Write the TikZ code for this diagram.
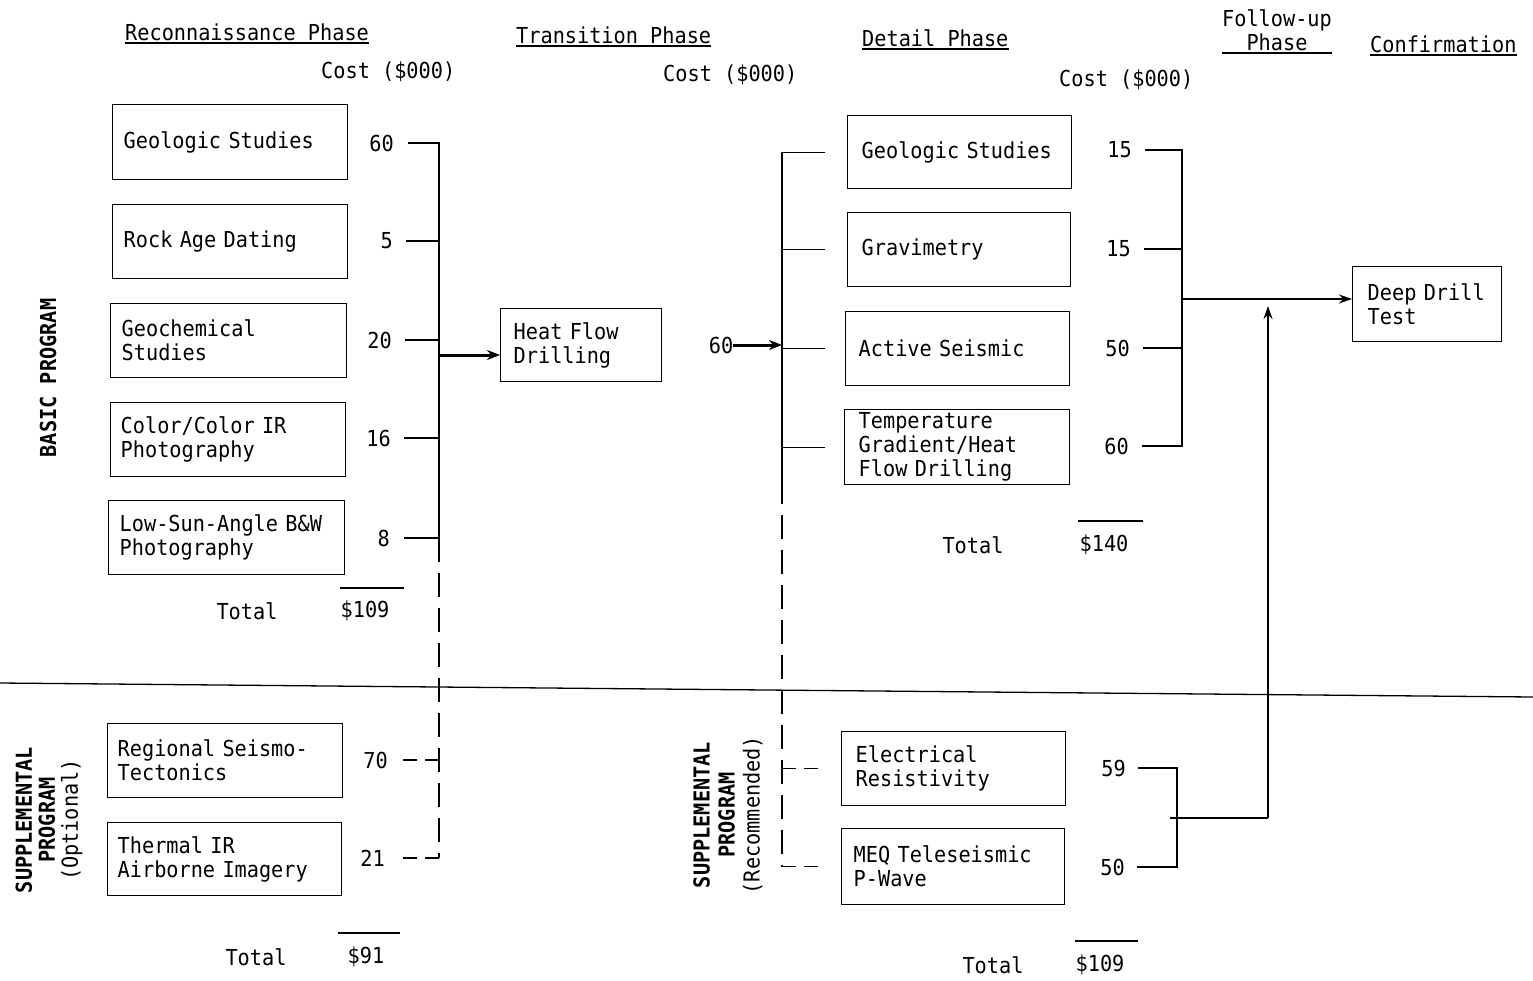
\documentclass[tikz,border=0pt]{standalone}
\usepackage{fontspec}
\newfontfamily\tw{DejaVu Sans Mono}[FakeStretch=0.92]
\usetikzlibrary{arrows.meta,calc}
\begin{document}
\begin{tikzpicture}[x=1pt,y=-1pt,
  every node/.style={font=\tw\fontsize{22}{24}\selectfont, inner sep=0pt},
  box/.style={draw, line width=1.4pt, inner xsep=11pt, inner ysep=0pt, align=left, anchor=north west},
  cost/.style={anchor=east},
  hdr/.style={anchor=base west},
  vlab/.style={rotate=90, align=center},
  uline/.style={line width=1.3pt},
  conn/.style={line width=1.3pt},
  dconn/.style={line width=1.3pt, dash pattern=on 24pt off 11pt},
  dtick/.style={line width=1.3pt, dash pattern=on 14pt off 8pt},
  tarrow/.style={line width=3pt, -{Stealth[length=13pt,width=10pt]}},
  arr/.style={line width=1.3pt, -{Stealth[length=13pt,width=9pt]}},
  totline/.style={line width=1.3pt}]
\useasboundingbox (0,0) rectangle (1533,980);
\fill[white] (0,0) rectangle (1533,980);

% ---------- headers ----------
\node[hdr] (h1) at (125,40) {Reconnaissance Phase};
\draw[uline] ([yshift=-3pt]h1.base west) -- ([yshift=-3pt]h1.base east);
\node[hdr] (k1) at (321,78) {Cost (\$000)};
\node[hdr] (h2) at (516,43) {Transition Phase};
\draw[uline] ([yshift=-3pt]h2.base west) -- ([yshift=-3pt]h2.base east);
\node[hdr] (k2) at (663,81) {Cost (\$000)};
\node[hdr] (h3) at (862,46) {Detail Phase};
\draw[uline] ([yshift=-3pt]h3.base west) -- ([yshift=-3pt]h3.base east);
\node[hdr] (k3) at (1059,86) {Cost (\$000)};
\node[anchor=base] (h4a) at (1277,26) {Follow-up};
\node[anchor=base] (h4b) at (1277,50) {Phase};
\draw[uline] ($(h4a.west |- h4b.base)+(0,3)$) -- ($(h4a.east |- h4b.base)+(0,3)$);
\node[hdr] (h5) at (1370,52) {Confirmation};
\draw[uline] ([yshift=-3pt]h5.base west) -- ([yshift=-3pt]h5.base east);

% ---------- side labels ----------
\node[vlab] (vb) at (48,378) {\bfseries BASIC PROGRAM};
\node[vlab, font=\tw\fontsize{22}{23}\selectfont] (vs1) at (49,820) {\bfseries SUPPLEMENTAL\\\bfseries PROGRAM\\(Optional)};
\node[vlab, font=\tw\fontsize{22}{25}\selectfont] (vs2) at (728,815) {\bfseries SUPPLEMENTAL\\\bfseries PROGRAM\\(Recommended)};

% ---------- reconnaissance boxes ----------
\node[box, text width=213pt, minimum height=75pt] (rg) at (112,104) {Geologic Studies};
\node[box, text width=213pt, minimum height=74pt] (ra) at (112,204) {Rock Age Dating};
\node[box, text width=214pt, minimum height=74pt] (rc) at (110,303) {Geochemical\\Studies};
\node[box, inner xsep=10pt, text width=215pt, minimum height=74pt] (rp) at (110,402) {Color/Color IR\\Photography};
\node[box, text width=214pt, minimum height=74pt] (rl) at (108,500) {Low-Sun-Angle B\&W\\Photography};
\node[box, inner xsep=10pt, text width=215pt, minimum height=74pt] (rs) at (107,723) {Regional Seismo-\\Tectonics};
\node[box, inner xsep=10pt, text width=214pt, minimum height=73pt] (rt) at (107,822) {Thermal IR\\Airborne Imagery};

% ---------- transition box ----------
\node[box, inner xsep=13pt, text width=135pt, minimum height=73pt] (hf) at (500,308) {Heat Flow\\Drilling};

% ---------- detail boxes ----------
\node[box, inner xsep=14pt, text width=196pt, minimum height=73pt] (dg) at (847,115) {Geologic Studies};
\node[box, inner xsep=14pt, text width=195pt, minimum height=74pt] (dv) at (847,212) {Gravimetry};
\node[box, inner xsep=13pt, text width=198pt, minimum height=74pt] (ds) at (845,311) {Active Seismic};
\node[box, inner xsep=14pt, text width=197pt, minimum height=75pt] (dt) at (844,409) {Temperature\\Gradient/Heat\\Flow Drilling};
\node[box, inner xsep=14pt, text width=196pt, minimum height=74pt] (de) at (841,731) {Electrical\\Resistivity};
\node[box, inner xsep=12pt, text width=199pt, minimum height=76pt] (dm) at (841,828) {MEQ Teleseismic\\P-Wave};

% ---------- confirmation box ----------
\node[box, inner xsep=9pt, text width=131pt, minimum height=75pt] (dd) at (1352,266) {\hspace*{6pt}Deep Drill\\\hspace*{6pt}Test};

% ---------- costs: reconnaissance ----------
\node[cost] (c1) at (394,143) {60};
\node[cost] (c2) at (393,241) {5};
\node[cost] (c3) at (392,340) {20};
\node[cost] (c4) at (391,438) {16};
\node[cost] (c5) at (390,538) {8};
\node[cost] (c6) at (388,760) {70};
\node[cost] (c7) at (385,858) {21};

\coordinate (LB) at (439,0);
\draw[conn] ([xshift=14pt]c1.east) -- (c1.east -| LB) -- (c5.east -| LB) -- ([xshift=14pt]c5.east);
\draw[conn] ([xshift=13pt]c2.east) -- (c2.east -| LB);
\draw[conn] ([xshift=13pt]c3.east) -- (c3.east -| LB);
\draw[conn] ([xshift=13pt]c4.east) -- (c4.east -| LB);
\draw[dconn] (c5.east -| LB) -- (c7.east -| LB);
\draw[dtick] (c6.east -| LB) -- ([xshift=14pt]c6.east);
\draw[dtick] (c7.east -| LB) -- ([xshift=14pt]c7.east);
\coordinate (a1) at (439,355);
\draw[tarrow] (a1) -- (a1 -| hf.west);

% totals
\draw[totline] (340,588) -- (404,588);
\node (tl1) at (247,611) {Total};
\node (tv1) at (365,611) {\$109};
\draw[totline] (338,933) -- (400,933);
\node (tl2) at (256,957) {Total};
\node (tv2) at (366,957) {\$91};

% ---------- transition to detail ----------
\node (t60) at (721,345) {60};
\coordinate (DB) at (782,0);
\coordinate (DBm) at (782,480);
\draw[tarrow] (t60.east) -- (t60.east -| DB);
\draw[conn] (dg.west -| DB) -- (DBm);
\draw[conn] (dg.west -| DB) -- ([xshift=-22pt]dg.west);
\draw[conn] (dv.west -| DB) -- ([xshift=-22pt]dv.west);
\draw[conn] (ds.west -| DB) -- ([xshift=-20pt]ds.west);
\draw[conn] (dt.west -| DB) -- ([xshift=-19pt]dt.west);
\draw[dconn] (DBm) -- (dm.west -| DB);
\draw[dtick] (de.west -| DB) -- ([xshift=-23pt]de.west);
\draw[dtick] (dm.west -| DB) -- ([xshift=-23pt]dm.west);

% ---------- costs: detail ----------
\node[cost] (d1) at (1132,150) {15};
\node[cost] (d2) at (1131,249) {15};
\node[cost] (d3) at (1130,348) {50};
\node[cost] (d4) at (1129,446) {60};
\coordinate (RB) at (1182,0);
\draw[conn] ([xshift=13pt]d1.east) -- (d1.east -| RB) -- (d4.east -| RB) -- ([xshift=13pt]d4.east);
\draw[conn] ([xshift=13pt]d2.east) -- (d2.east -| RB);
\draw[conn] ([xshift=13pt]d3.east) -- (d3.east -| RB);
\coordinate (o1) at (1182,299);
\draw[arr] (o1) -- (o1 -| dd.west);

\draw[totline] (1078,521) -- (1143,521);
\node (tl3) at (973,545) {Total};
\node (tv3) at (1104,545) {\$140};

% ---------- costs: supplemental detail ----------
\node[cost] (s1) at (1126,768) {59};
\node[cost] (s2) at (1125,867) {50};
\coordinate (SB) at (1177,0);
\draw[conn] ([xshift=12pt]s1.east) -- (s1.east -| SB) -- (s2.east -| SB) -- ([xshift=12pt]s2.east);
\coordinate (j1) at (1170,818);
\coordinate (j2) at (1268,818);
\coordinate (o2) at (1268,306);
\draw[conn] (j1) -- (j2);
\draw[arr] (j2) -- (o2);

\draw[totline] (1075,941) -- (1138,941);
\node (tl4) at (993,965) {Total};
\node (tv4) at (1100,965) {\$109};

% ---------- separator ----------
\draw[conn] (0,683) -- (1533,697);
\end{tikzpicture}
\end{document}
